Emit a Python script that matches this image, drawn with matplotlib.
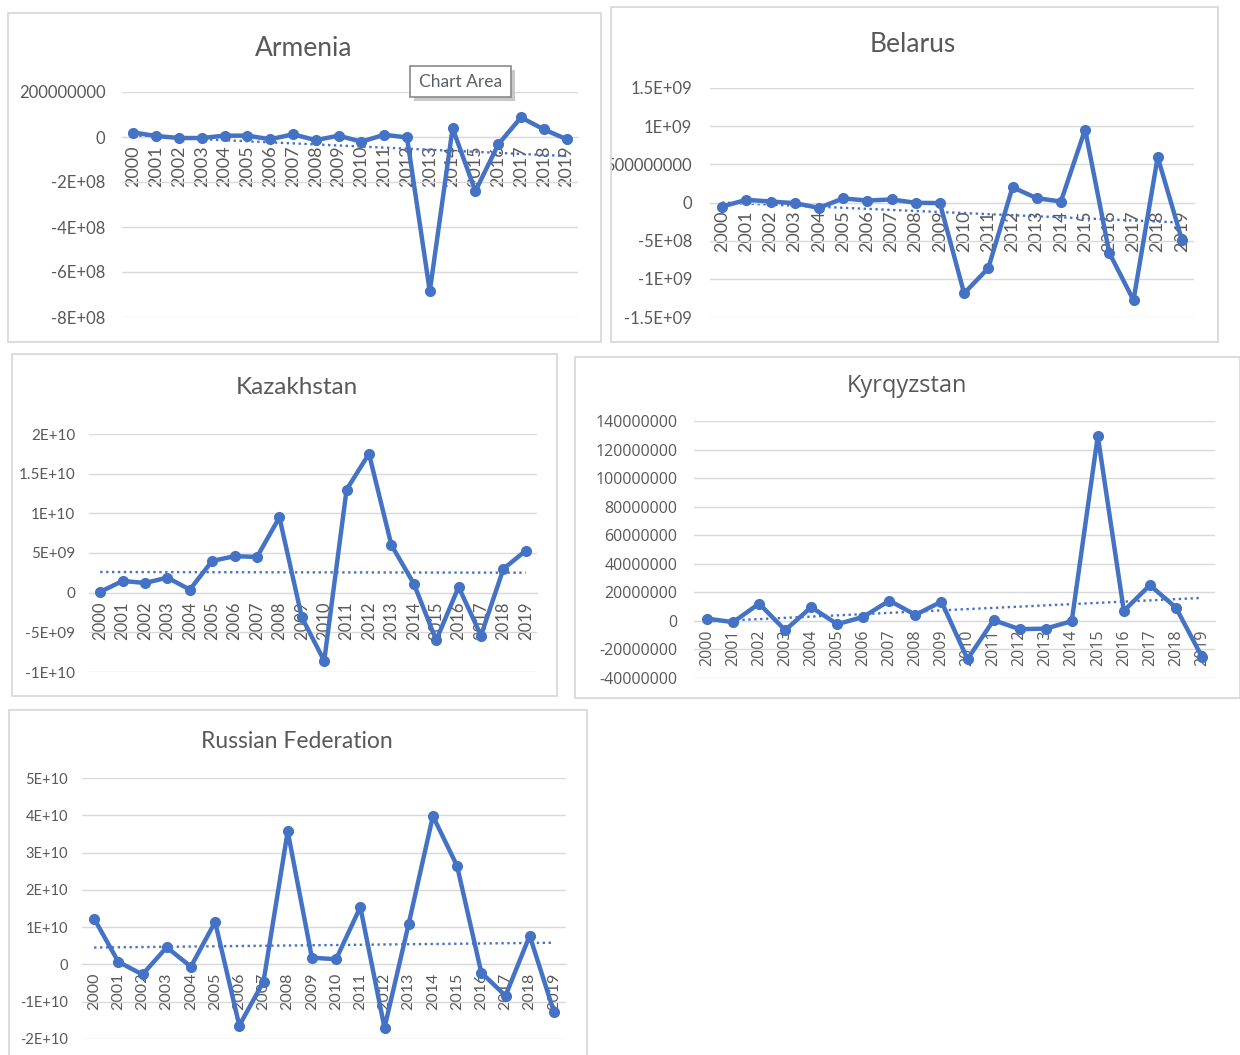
import matplotlib
matplotlib.use("Agg")
import matplotlib.pyplot as plt
from matplotlib.patches import Rectangle
from matplotlib.transforms import Bbox, TransformedBbox
from matplotlib.ticker import FixedLocator, FixedFormatter
import numpy as np

# ------------------------------
# Data
# ------------------------------

years = ["2000", "2001", "2002", "2003", "2004", "2005", "2006", "2007", "2008", "2009",
         "2010", "2011", "2012", "2013", "2014", "2015", "2016", "2017", "2018", "2019"]

armenia = [20e6, 4.5e6, -4.5e6, -4.5e6, 6e6, 6e6, -10e6, 12e6, -14e6, 6e6,
           -21e6, 10e6, -2e6, -686e6, 39e6, -241e6, -33e6, 87e6, 34e6, -10e6]
belarus = [-53e6, 35e6, 13e6, -9e6, -70e6, 53e6, 26e6, 40e6, -4e6, -8e6,
           -1190e6, -860e6, 200e6, 57e6, 13e6, 956e6, -660e6, -1280e6, 596e6, -490e6]
kazakhstan = [0.1e9, 1.48e9, 1.22e9, 1.9e9, 0.38e9, 4.0e9, 4.6e9, 4.5e9, 9.5e9, -3.1e9,
              -8.6e9, 13.0e9, 17.5e9, 6.0e9, 1.14e9, -6.0e9, 0.72e9, -5.4e9, 3.0e9, 5.3e9]
kyrgyzstan = [1.6e6, -0.9e6, 12.1e6, -6.5e6, 9.6e6, -2.3e6, 2.8e6, 14.2e6, 4.2e6, 13.5e6,
              -26.8e6, 0.5e6, -5.8e6, -5.4e6, -0.2e6, 129.5e6, 7e6, 25e6, 9.3e6, -25.2e6]
russia = [12.3e9, 0.7e9, -2.7e9, 4.6e9, -0.6e9, 11.4e9, -16.4e9, -4.6e9, 35.7e9, 1.8e9,
          1.4e9, 15.4e9, -17.0e9, 10.9e9, 39.8e9, 26.4e9, -2.2e9, -8.4e9, 7.7e9, -12.7e9]

armenia_ticks = [-8e8, -6e8, -4e8, -2e8, 0, 2e8]
armenia_labels = ["-8E+08", "-6E+08", "-4E+08", "-2E+08", "0", "200000000"]
belarus_ticks = [-1.5e9, -1e9, -5e8, 0, 5e8, 1e9, 1.5e9]
belarus_labels = ["-1.5E+09", "-1E+09", "-5E+08", "0", "500000000", "1E+09", "1.5E+09"]
kazakhstan_ticks = [-1e10, -5e9, 0, 5e9, 1e10, 1.5e10, 2e10]
kazakhstan_labels = ["-1E+10", "-5E+09", "0", "5E+09", "1E+10", "1.5E+10", "2E+10"]
kyrgyzstan_ticks = [-4e7, -2e7, 0, 2e7, 4e7, 6e7, 8e7, 1e8, 1.2e8, 1.4e8]
kyrgyzstan_labels = ["-40000000", "-20000000", "0", "20000000", "40000000", "60000000",
                     "80000000", "100000000", "120000000", "140000000"]
russia_ticks = [-2e10, -1e10, 0, 1e10, 2e10, 3e10, 4e10, 5e10]
russia_labels = ["-2E+10", "-1E+10", "0", "1E+10", "2E+10", "3E+10", "4E+10", "5E+10"]

# ------------------------------
# Layout helpers (pixels -> figure)
# ------------------------------

W, H = 1240, 1055
BLUE = "#4472C4"
GREY = "#595959"
GRID = "#D9D9D9"

fig = plt.figure(figsize=(W / 100, H / 100), dpi=100)
fig.patch.set_facecolor("white")


def fbox(x0, y0, x1, y1):
    return [x0 / W, 1 - y1 / H, (x1 - x0) / W, (y1 - y0) / H]


def draw_chart(title, values, box, plot, yticks, ylabels, title_xy,
               font="Lato", title_size=19, tick_size=11.5, xtick_size=12.5,
               ypad=12, xpad=6, clip_labels=False):
    bx0, by0, bx1, by1 = box
    fig.patches.append(Rectangle((bx0 / W, 1 - by1 / H), (bx1 - bx0) / W, (by1 - by0) / H,
                                 transform=fig.transFigure, fill=False,
                                 edgecolor=GRID, linewidth=1.3))
    ax = fig.add_axes(fbox(*plot))
    ax.set_facecolor("none")
    for s in ["top", "right", "left"]:
        ax.spines[s].set_visible(False)
    ax.spines["bottom"].set_position(("data", 0))
    ax.spines["bottom"].set_color(GRID)

    x = np.arange(len(values))
    ax.plot(x, values, color=BLUE, linewidth=3.2, marker="o", markersize=7,
            solid_joinstyle="round", zorder=3)
    coeff = np.polyfit(x, values, 1)
    trend = np.poly1d(coeff)
    ax.plot(x, trend(x), color=BLUE, linewidth=1.7, linestyle=(0, (1, 1.5)), zorder=2.5)

    ax.set_xlim(-0.5, len(values) - 0.5)
    ax.set_ylim(yticks[0], yticks[-1])
    ax.yaxis.set_major_locator(FixedLocator(yticks))
    ax.yaxis.set_major_formatter(FixedFormatter(ylabels))
    ax.xaxis.set_major_locator(FixedLocator(list(x)))
    ax.xaxis.set_major_formatter(FixedFormatter(years))
    ax.grid(axis="y", color=GRID, linewidth=1)
    ax.set_axisbelow(True)
    ax.tick_params(axis="y", length=0, pad=ypad, labelsize=tick_size, labelcolor=GREY,
                   labelfontfamily=font)
    ax.tick_params(axis="x", length=0, pad=xpad, labelsize=xtick_size, labelcolor=GREY,
                   labelrotation=90, labelfontfamily=font)
    fig.text(title_xy[0] / W, 1 - title_xy[1] / H, title, ha="center", va="center",
             fontsize=title_size, color=GREY, family=font)
    if clip_labels:
        clip = TransformedBbox(Bbox.from_extents(bx0 / W, 1 - by1 / H, bx1 / W, 1 - by0 / H),
                               fig.transFigure)
        fig.canvas.draw()
        for lbl in ax.get_yticklabels():
            lbl.set_clip_box(clip)
            lbl.set_clip_on(True)
    return ax


draw_chart("Armenia", armenia, (8, 13, 601, 342), (122, 92, 578, 317),
           armenia_ticks, armenia_labels, (304, 48), tick_size=12, xtick_size=13, ypad=12)
draw_chart("Belarus", belarus, (611, 7, 1218, 342), (710, 88, 1194, 317),
           belarus_ticks, belarus_labels, (913, 44), tick_size=12, xtick_size=13,
           ypad=13, clip_labels=True)
draw_chart("Kazakhstan", kazakhstan, (12, 354, 557, 696), (89, 434, 537, 672),
           kazakhstan_ticks, kazakhstan_labels, (297, 388), title_size=17.5,
           tick_size=11, xtick_size=12, ypad=10)
draw_chart("Kyrqyzstan", kyrgyzstan, (575, 357, 1240, 698), (694, 421, 1215, 678),
           kyrgyzstan_ticks, kyrgyzstan_labels, (907, 386), font="Open Sans",
           title_size=17, tick_size=11.5, xtick_size=11.5, ypad=12)
draw_chart("Russian Federation", russia, (9, 710, 587, 1062), (82, 778, 566, 1039),
           russia_ticks, russia_labels, (297, 741), title_size=16.5,
           tick_size=10.5, xtick_size=11.5, ypad=10)

# ------------------------------
# "Chart Area" tooltip on Armenia
# ------------------------------

fig.patches.append(Rectangle((414 / W, 1 - 101 / H), 101 / W, 31 / H,
                             transform=fig.transFigure, facecolor="#c8c8c8",
                             edgecolor="none"))
fig.patches.append(Rectangle((410 / W, 1 - 97 / H), 101 / W, 31 / H,
                             transform=fig.transFigure, facecolor="white",
                             edgecolor="#8a8a8a", linewidth=1.2))
fig.text(460.5 / W, 1 - 82 / H, "Chart Area", ha="center", va="center",
         fontsize=12.5, color="#5a5f6a", family="Lato")

fig.savefig("out.png", dpi=100)
